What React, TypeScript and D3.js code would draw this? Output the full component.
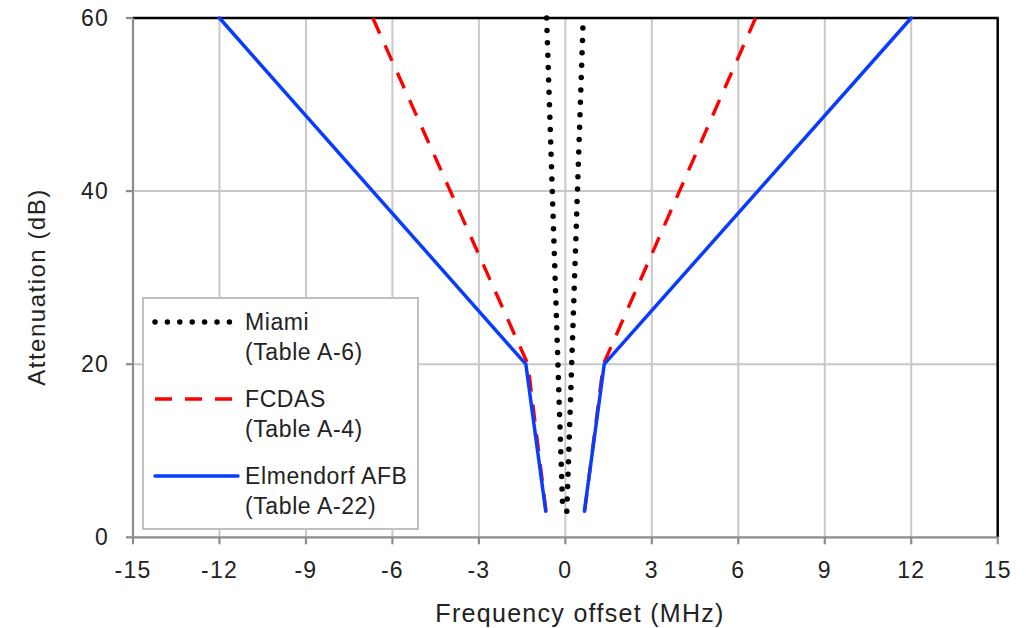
import React from "react";
import * as d3 from "d3";

const xTicks = [-15, -12, -9, -6, -3, 0, 3, 6, 9, 12, 15];
const yTicks = [0, 20, 40, 60];

const miamiLeft: [number, number][] = [[-0.65, 60], [-0.1, 4]];
const miamiRight: [number, number][] = [[0.05, 3], [0.62, 60]];
const fcdasLeft: [number, number][] = [[-6.68, 60], [-1.3, 20], [-0.67, 3]];
const fcdasRight: [number, number][] = [[0.67, 3], [1.32, 20], [6.6, 60]];
const elmLeft: [number, number][] = [[-12, 60], [-1.37, 20], [-0.68, 3]];
const elmRight: [number, number][] = [[0.66, 3], [1.35, 20], [12, 60]];

const legendItems = [
  { name: "Miami", table: "(Table A-6)", kind: "dot" },
  { name: "FCDAS", table: "(Table A-4)", kind: "dash" },
  { name: "Elmendorf AFB", table: "(Table A-22)", kind: "solid" },
];

const W = 1032;
const H = 628;
const FONT = "'Liberation Sans', Arial, sans-serif";

export default function App() {
  const x = d3.scaleLinear().domain([-15, 15]).range([133, 997.7]);
  const y = d3.scaleLinear().domain([0, 60]).range([537.3, 18]);
  const line = d3
    .line<[number, number]>()
    .x((d) => x(d[0]))
    .y((d) => y(d[1]));

  const styleFor = (kind: string) => {
    if (kind === "dot")
      return { stroke: "#000", strokeWidth: 5.5, strokeDasharray: "0 12.4", strokeLinecap: "round" as const };
    if (kind === "dash")
      return { stroke: "#ff0000", strokeWidth: 3.4, strokeDasharray: "17 13", strokeLinecap: "butt" as const };
    return { stroke: "#0a3cff", strokeWidth: 3.5, strokeLinecap: "round" as const };
  };

  const x0 = x(-15);
  const x1 = x(15);
  const y0 = y(0);
  const y1 = y(60);

  return (
    <svg
      width={W}
      height={H}
      style={{ position: "absolute", left: 0, top: 0, background: "#fff" }}
      fontFamily={FONT}
    >
      {xTicks
        .filter((t) => t !== -15 && t !== 15)
        .map((t) => (
          <line key={"gx" + t} x1={x(t)} x2={x(t)} y1={y1} y2={y0} stroke="#c8c8c8" strokeWidth={2} />
        ))}
      {yTicks
        .filter((t) => t !== 0 && t !== 60)
        .map((t) => (
          <line key={"gy" + t} x1={x0} x2={x1} y1={y(t)} y2={y(t)} stroke="#c8c8c8" strokeWidth={2} />
        ))}
      <line x1={x0} x2={x1 + 1} y1={y1} y2={y1} stroke="#000" strokeWidth={2.5} />
      <line x1={x1} x2={x1} y1={y1} y2={y0} stroke="#000" strokeWidth={2.5} />
      <line x1={x0} x2={x0} y1={y1} y2={y0} stroke="#8c8c8c" strokeWidth={2.2} />
      <line x1={x0} x2={x1} y1={y0} y2={y0} stroke="#8c8c8c" strokeWidth={2.2} />
      {xTicks.map((t) => (
        <g key={"tx" + t}>
          <line x1={x(t)} x2={x(t)} y1={y0} y2={y0 + 7} stroke="#8c8c8c" strokeWidth={2.2} />
          <text x={x(t)} y={y0 + 41} textAnchor="middle" fontSize={23} fill="#222" letterSpacing={1.2}>
            {t}
          </text>
        </g>
      ))}
      {yTicks.map((t) => (
        <g key={"ty" + t}>
          <line x1={x0 - 7} x2={x0} y1={y(t)} y2={y(t)} stroke="#8c8c8c" strokeWidth={2.2} />
          <text x={x0 - 24} y={y(t) + 8} textAnchor="end" fontSize={23} fill="#222" letterSpacing={1.2}>
            {t}
          </text>
        </g>
      ))}
      <text x={580} y={622} textAnchor="middle" fontSize={25} fill="#222" letterSpacing={1.3}>
        Frequency offset (MHz)
      </text>
      <text
        transform={`translate(45,${287}) rotate(-90)`}
        textAnchor="middle"
        fontSize={24}
        fill="#222"
        letterSpacing={1.5}
      >
        Attenuation (dB)
      </text>

      {[miamiLeft, miamiRight].map((d, i) => (
        <path key={"m" + i} d={line(d) || ""} fill="none" {...styleFor("dot")} />
      ))}
      {[fcdasLeft, fcdasRight].map((d, i) => (
        <path key={"f" + i} d={line(d) || ""} fill="none" {...styleFor("dash")} />
      ))}
      {[elmLeft, elmRight].map((d, i) => (
        <path key={"e" + i} d={line(d) || ""} fill="none" {...styleFor("solid")} strokeLinejoin="round" />
      ))}

      <rect x={143} y={298} width={275} height={231} fill="#fff" stroke="#c0c0c0" strokeWidth={2} />
      {legendItems.map((it, i) => {
        const ly = 322 + i * 77;
        return (
          <g key={it.name}>
            <line x1={155} x2={238} y1={ly} y2={ly} {...styleFor(it.kind)} />
            <text x={245} y={ly + 7.5} fontSize={23} fill="#222" letterSpacing={0.6}>
              {it.name}
            </text>
            <text x={245} y={ly + 38} fontSize={23} fill="#222" letterSpacing={0.6}>
              {it.table}
            </text>
          </g>
        );
      })}
    </svg>
  );
}
